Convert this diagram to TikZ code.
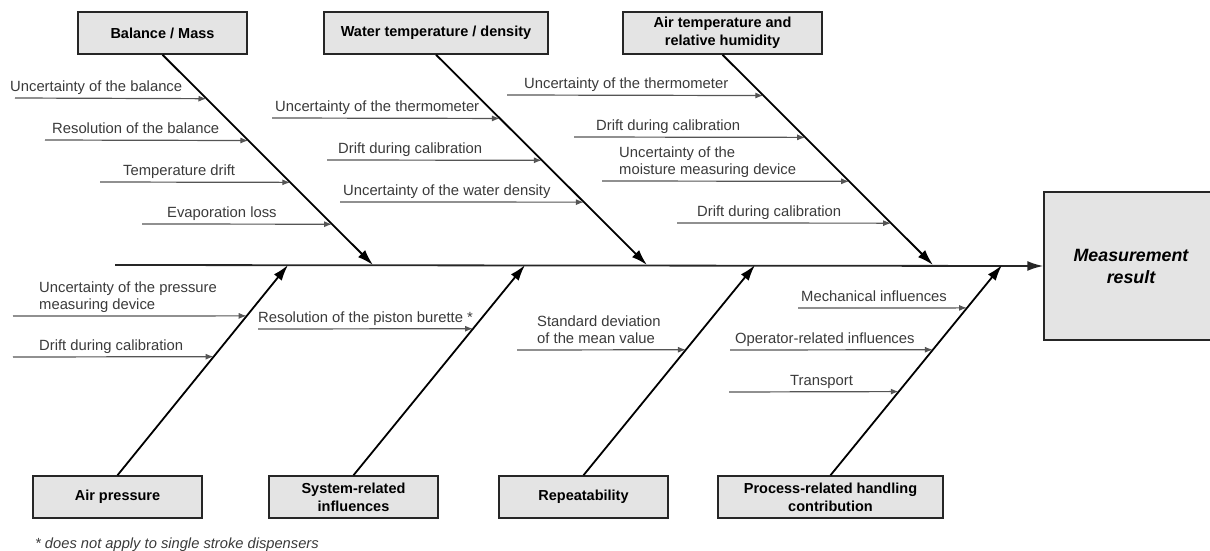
\documentclass[tikz,border=0pt]{standalone}
\usepackage{fontspec}
\setmainfont{Liberation Sans}
\usetikzlibrary{positioning,arrows.meta}

\definecolor{boxgray}{HTML}{E4E4E4}
\definecolor{linegray}{HTML}{555555}
\definecolor{textgray}{HTML}{3A3A3A}

\tikzset{
	cause/.style = {rectangle, draw = black!85, line width = 1.5pt, fill = boxgray,
		minimum height = 42pt, align = center, inner sep = 2pt,
		font = \fontsize{14.5}{18}\selectfont\bfseries},
	factor/.style = {anchor = south west, inner sep = 0pt, align = left, text depth = 4pt,
		text = textgray, font = \fontsize{14.8}{17.5}\selectfont},
	bone/.style = {line width = 1.8pt, -{Latex[length = 16pt, width = 10pt]}},
	twig/.style = {line width = 1.2pt, draw = linegray, -{Latex[length = 8pt, width = 6pt]}}
}

\begin{document}
\begin{tikzpicture}[x = 1pt, y = -1pt, node distance = 0pt and 274pt, on grid]
	%\draw[help lines] (0,0) grid (1210, 551);
	\useasboundingbox (0,0) rectangle (1210,551);

	\node (balance) [cause, minimum width = 169pt] at (162.5,33) {Balance / Mass};
	\node (water) [cause, minimum width = 224pt, right = 273.5pt of balance] {Water temperature / density};
	\node (air) [cause, minimum width = 199pt, right = 286.5pt of water] {Air temperature and\\relative humidity};

	\node (pressure) [cause, minimum width = 169pt] at (117.5,497) {Air pressure};
	\node (system) [cause, minimum width = 169pt, right = 236pt of pressure] {System-related\\influences};
	\node (repeat) [cause, minimum width = 169pt, right = 230pt of system] {Repeatability};
	\node (process) [cause, minimum width = 225pt, right = 247pt of repeat] {Process-related handling\\contribution};

	\node (result) [cause, minimum width = 174pt, minimum height = 148pt,
		font = \fontsize{17.8}{22}\selectfont\bfseries\itshape] at (1131,266) {Measurement\\result};

	% spine and where the bones meet it
	\coordinate (tail) at (115,265);
	\coordinate (bm) at (373,265);
	\coordinate (wt) at (647,265);
	\coordinate (ah) at (933,265);
	\coordinate (ap) at (288,265);
	\coordinate (sr) at (525,265);
	\coordinate (rp) at (755,265);
	\coordinate (pc) at (1002,265);

	\draw[bone, draw = black!85] (tail) -- (result.west);

	\draw[bone] (balance.south) -- coordinate[pos = .209] (bm1) coordinate[pos = .408] (bm2)
		coordinate[pos = .607] (bm3) coordinate[pos = .806] (bm4) (bm);
	\draw[bone] (water.south) -- coordinate[pos = .303] (wt1) coordinate[pos = .502] (wt2)
		coordinate[pos = .701] (wt3) (wt);
	\draw[bone] (air.south) -- coordinate[pos = .194] (ah1) coordinate[pos = .393] (ah2)
		coordinate[pos = .602] (ah3) coordinate[pos = .801] (ah4) (ah);
	\draw[bone] (pressure.north) -- coordinate[pos = .564] (ap2) coordinate[pos = .758] (ap1) (ap);
	\draw[bone] (system.north) -- coordinate[pos = .697] (sr1) (sr);
	\draw[bone] (repeat.north) -- coordinate[pos = .597] (rp1) (rp);
	\draw[bone] (process.north) -- coordinate[pos = .398] (pc3) coordinate[pos = .597] (pc2)
		coordinate[pos = .796] (pc1) (pc);

	% influences
	\node (bml1) [factor] at (10,96) {Uncertainty of the balance};
	\node (bml2) [factor] at (52,138) {Resolution of the balance};
	\node (bml3) [factor] at (123,180) {Temperature drift};
	\node (bml4) [factor] at (167,222) {Evaporation loss};
	\node (wtl1) [factor] at (275,116) {Uncertainty of the thermometer};
	\node (wtl2) [factor] at (338,158) {Drift during calibration};
	\node (wtl3) [factor] at (343,200) {Uncertainty of the water density};
	\node (ahl1) [factor] at (524,93) {Uncertainty of the thermometer};
	\node (ahl2) [factor] at (596,135) {Drift during calibration};
	\node (ahl3) [factor] at (619,179) {Uncertainty of the\\moisture measuring device};
	\node (ahl4) [factor] at (697,221) {Drift during calibration};
	\node (apl1) [factor] at (39,314) {Uncertainty of the pressure\\measuring device};
	\node (apl2) [factor] at (39,355) {Drift during calibration};
	\node (srl1) [factor] at (258,327) {Resolution of the piston burette *};
	\node (rpl1) [factor] at (537,348) {Standard deviation\\of the mean value};
	\node (pcl1) [factor] at (801,306) {Mechanical influences};
	\node (pcl2) [factor] at (735,348) {Operator-related influences};
	\node (pcl3) [factor] at (790,390) {Transport};

	\coordinate (bms1) at (15,98);
	\coordinate (bms2) at (45,140);
	\coordinate (bms3) at (100,182);
	\coordinate (bms4) at (142,224);
	\coordinate (wts1) at (272,118);
	\coordinate (wts2) at (327,160);
	\coordinate (wts3) at (340,202);
	\coordinate (ahs1) at (507,95);
	\coordinate (ahs2) at (574,137);
	\coordinate (ahs3) at (602,181);
	\coordinate (ahs4) at (677,223);
	\coordinate (aps1) at (13,316);
	\coordinate (aps2) at (13,357);
	\coordinate (srs1) at (258,329);
	\coordinate (rps1) at (517,350);
	\coordinate (pcs1) at (798,308);
	\coordinate (pcs2) at (730,350);
	\coordinate (pcs3) at (729,392);

	\draw[twig] (bms1) -- (bm1);
	\draw[twig] (bms2) -- (bm2);
	\draw[twig] (bms3) -- (bm3);
	\draw[twig] (bms4) -- (bm4);
	\draw[twig] (wts1) -- (wt1);
	\draw[twig] (wts2) -- (wt2);
	\draw[twig] (wts3) -- (wt3);
	\draw[twig] (ahs1) -- (ah1);
	\draw[twig] (ahs2) -- (ah2);
	\draw[twig] (ahs3) -- (ah3);
	\draw[twig] (ahs4) -- (ah4);
	\draw[twig] (aps1) -- (ap1);
	\draw[twig] (aps2) -- (ap2);
	\draw[twig] (srs1) -- (sr1);
	\draw[twig] (rps1) -- (rp1);
	\draw[twig] (pcs1) -- (pc1);
	\draw[twig] (pcs2) -- (pc2);
	\draw[twig] (pcs3) -- (pc3);

	\node (note) [anchor = base west, inner sep = 0pt, text = textgray,
		font = \fontsize{14.7}{17}\selectfont\itshape] at (35,548) {* does not apply to single stroke dispensers};
\end{tikzpicture}
\end{document}
